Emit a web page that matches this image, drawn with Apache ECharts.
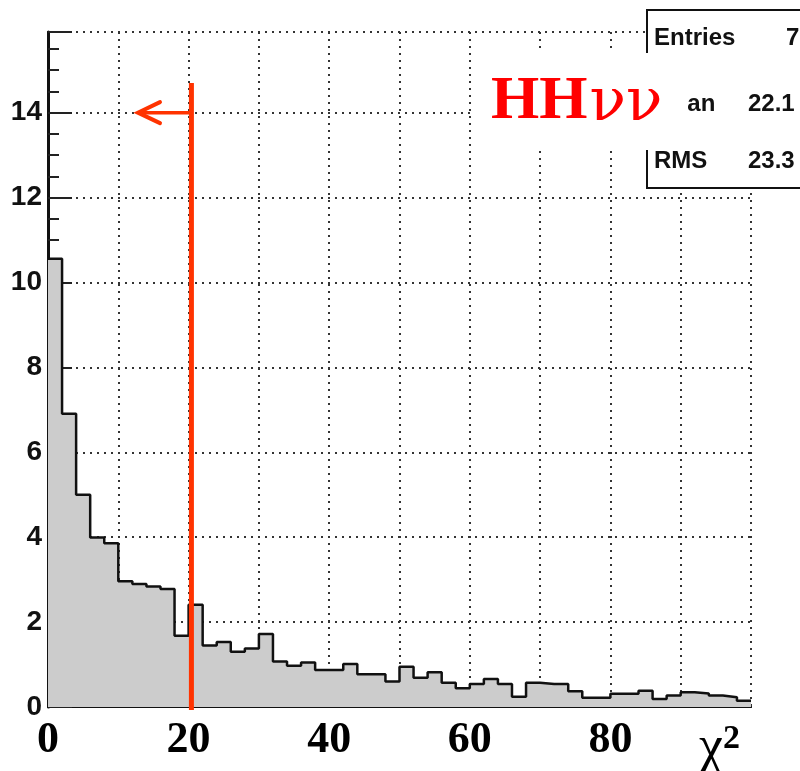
<!DOCTYPE html>
<html>
<head>
<meta charset="utf-8">
<script src="https://cdn.jsdelivr.net/npm/echarts@6/dist/echarts.min.js"></script>
<style>html,body{margin:0;padding:0;background:#fff;}#c{width:800px;height:771px;}</style>
</head>
<body>
<div id="c"></div>
<script>
// chi^2 histogram (bin low edges, width 2)
const binLow = [0,2,4,6,8,10,12,14,16,18,20,22,24,26,28,30,32,34,36,38,40,42,44,46,48,
                50,52,54,56,58,60,62,64,66,68,70,72,74,76,78,80,82,84,86,88,90,92,94,96,98];
const binWidth = 2;
const counts = [10.56,6.91,5.00,3.99,3.86,2.96,2.90,2.84,2.78,1.68,
                2.41,1.45,1.53,1.30,1.38,1.72,1.07,0.97,1.05,0.87,
                0.87,1.01,0.77,0.77,0.60,0.95,0.69,0.82,0.57,0.44,
                0.54,0.66,0.54,0.24,0.57,0.54,0.54,0.37,0.22,0.22,
                0.31,0.31,0.38,0.19,0.27,0.35,0.32,0.27,0.23,0.15];
const xTickLabels = [0,20,40,60,80];
const yTickLabels = [0,2,4,6,8,10,12,14];
// cut annotation
const cutX = 20.4, cutTop = 14.7, arrowY = 14, arrowTipX = 12.8;
// stats box
const statNames = ['Entries','Mean','RMS'];
const statValues = ['7','22.1','23.3'];

const histData = binLow.map((x,i)=>[x, counts[i]]);
histData.push([binLow[binLow.length-1]+binWidth, counts[counts.length-1]]);

const dotted = {color:'#333', width:2, type:[2,5]};
const chart = echarts.init(document.getElementById('c'), null, {renderer:'canvas'});
chart.setOption({
  animation:false,
  backgroundColor:'#fff',
  grid:{left:48, right:49, top:32, bottom:64, containLabel:false},
  xAxis:[{
    type:'value', min:0, max:100, interval:10,
    axisLine:{show:true, lineStyle:{color:'#111', width:2}},
    axisTick:{show:false},
    splitLine:{show:true, lineStyle:dotted},
    axisLabel:{margin:12, color:'#000', fontFamily:'Liberation Serif', fontWeight:'bold', fontSize:44,
      formatter:v=> xTickLabels.indexOf(v)>=0 ? String(v) : ''}
  },{
    type:'value', min:0, max:100, position:'top',
    axisLine:{show:true, lineStyle:{color:'#111', width:2}},
    axisTick:{show:false}, axisLabel:{show:false}, splitLine:{show:false}
  }],
  yAxis:[{
    type:'value', min:0, max:15.9, interval:2,
    axisLine:{show:true, lineStyle:{color:'#111', width:2}},
    axisTick:{show:true, inside:true, length:24, lineStyle:{color:'#222', width:2}},
    minorTick:{show:true, splitNumber:4, length:11, lineStyle:{color:'#222', width:2}},
    splitLine:{show:true, lineStyle:dotted},
    axisLabel:{margin:6, color:'#111', fontFamily:'Liberation Sans', fontWeight:'bold', fontSize:28,
      formatter:v=> yTickLabels.indexOf(v)>=0 ? String(v) : ''}
  },{
    type:'value', min:0, max:15.9, position:'right',
    axisLine:{show:true, lineStyle:{color:'#111', width:3}},
    axisTick:{show:false}, axisLabel:{show:false}, splitLine:{show:false}
  }],
  series:[{
    type:'line', step:'end', data:histData, symbol:'none',
    lineStyle:{color:'#111', width:2.5},
    areaStyle:{color:'#cccccc', opacity:1},
    z:3
  },{
    type:'custom', data:[[cutX, cutTop, arrowY, arrowTipX]],
    encode:{x:0, y:1}, clip:false, z:5,
    renderItem:function(params, api){
      const x = api.value(0), top = api.value(1), ay = api.value(2), tip = api.value(3);
      const pTop = api.coord([x, top]);
      const pBot = api.coord([x, 0]);
      const pA = api.coord([x, ay]);
      const pT = api.coord([tip, ay]);
      const col = '#ff3300';
      return {type:'group', children:[
        {type:'line', shape:{x1:pTop[0], y1:pTop[1], x2:pBot[0], y2:pBot[1]+3}, style:{stroke:col, lineWidth:5}},
        {type:'line', shape:{x1:pA[0], y1:pA[1], x2:pT[0], y2:pT[1]}, style:{stroke:col, lineWidth:3.5}},
        {type:'polyline', shape:{points:[[pT[0]+22, pT[1]-10.5],[pT[0], pT[1]],[pT[0]+22, pT[1]+10.5]]},
         style:{stroke:col, lineWidth:4, fill:null, lineCap:'round', lineJoin:'miter'}}
      ]};
    }
  }],
  graphic:[
    {type:'rect', z:100, shape:{x:647, y:10, width:170, height:178}, style:{fill:'#fff', stroke:'#111', lineWidth:2}},
    {type:'text', z:101, style:{x:654, y:38, text:statNames[0], verticalAlign:'middle', fill:'#111', font:'bold 24px "Liberation Sans"'}},
    {type:'text', z:101, style:{x:654, y:104, text:statNames[1], verticalAlign:'middle', fill:'#111', font:'bold 24px "Liberation Sans"'}},
    {type:'text', z:101, style:{x:654, y:161, text:statNames[2], verticalAlign:'middle', fill:'#111', font:'bold 24px "Liberation Sans"'}},
    {type:'text', z:101, style:{x:786, y:38, text:statValues[0], verticalAlign:'middle', fill:'#111', font:'bold 24px "Liberation Sans"'}},
    {type:'text', z:101, style:{x:748, y:104, text:statValues[1], verticalAlign:'middle', fill:'#111', font:'bold 24px "Liberation Sans"'}},
    {type:'text', z:101, style:{x:748, y:161, text:statValues[2], verticalAlign:'middle', fill:'#111', font:'bold 24px "Liberation Sans"'}},
    {type:'rect', z:110, shape:{x:472, y:53, width:216, height:97}, style:{fill:'#fff'}},
    {type:'text', z:111, style:{x:491, y:102, verticalAlign:'middle',
      text:'{a|HH}{b|νν}',
      rich:{a:{fontFamily:'Liberation Serif', fontWeight:'bold', fontSize:62, fill:'#ff0000', fontStyle:'normal'},
            b:{fontFamily:'DejaVu Serif', fontWeight:'normal', fontSize:60, fill:'#ff0000', padding:[4,0,0,2]}}}},
    {type:'text', z:111, style:{x:699, y:749, verticalAlign:'middle',
      text:'{a|χ}{b|2}',
      rich:{a:{fontFamily:'Liberation Serif', fontSize:54, fill:'#000'},
            b:{fontFamily:'Liberation Serif', fontWeight:'bold', fontSize:34, fill:'#000', verticalAlign:'top', padding:[0,0,14,0]}}}}
  ]
});
</script>
</body>
</html>
